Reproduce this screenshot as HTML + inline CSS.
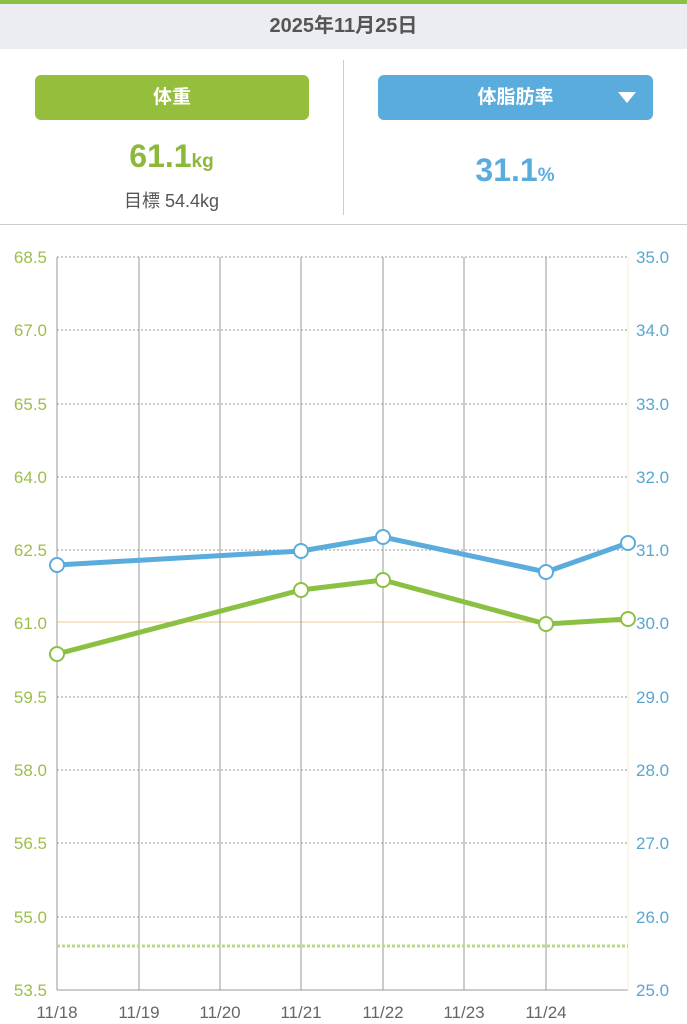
<!DOCTYPE html>
<html><head><meta charset="utf-8"><style>
body{margin:0;width:687px;height:1024px;background:#fff;font-family:"Liberation Sans","Noto Sans CJK JP",sans-serif;position:relative;overflow:hidden}
.top{position:absolute;left:0;top:0;width:687px;height:4px;background:#8cc043}
.date{position:absolute;left:0;top:4px;width:687px;height:45px;background:#ecedf2;text-align:center;line-height:45px;font-size:20px;font-weight:bold;color:#555}
.btn{position:absolute;top:75px;height:45px;border-radius:6px;color:#fff;font-size:19px;font-weight:bold;text-align:center;line-height:45px}
.div{position:absolute;left:343px;top:60px;width:1px;height:155px;background:#ccc}
.hr{position:absolute;left:0;top:224px;width:687px;height:1px;background:#ccc}
</style></head><body>
<div class="top"></div>
<div class="date">2025年11月25日</div>
<div class="btn" style="left:35px;width:274px;background:#95be3c">体重</div>
<div class="btn" style="left:378px;width:275px;background:#5aacdc">体脂肪率<svg style="position:absolute;right:17px;top:17px" width="18" height="12"><polygon points="0,0 18,0 9,11" fill="#fff"/></svg></div>
<div style="position:absolute;left:0;width:343px;top:138px;text-align:center;color:#8cb83c;font-size:32px;font-weight:bold">61.1<span style="font-size:19px">kg</span></div>
<div style="position:absolute;left:0;width:343px;top:187px;text-align:center;color:#555;font-size:18px">目標 54.4kg</div>
<div style="position:absolute;left:343px;width:344px;top:152px;text-align:center;color:#5aacdc;font-size:32px;font-weight:bold">31.1<span style="font-size:19px">%</span></div>
<div class="div"></div><div class="hr"></div>
<svg width="687" height="1024" style="position:absolute;left:0;top:0" font-family="Liberation Sans, sans-serif" font-size="17">
<g stroke="#999" stroke-width="1" stroke-dasharray="2,2">
<line x1="57" x2="628" y1="257" y2="257"/><line x1="57" x2="628" y1="330" y2="330"/><line x1="57" x2="628" y1="404" y2="404"/><line x1="57" x2="628" y1="477" y2="477"/><line x1="57" x2="628" y1="550" y2="550"/><line x1="57" x2="628" y1="697" y2="697"/><line x1="57" x2="628" y1="770" y2="770"/><line x1="57" x2="628" y1="843" y2="843"/><line x1="57" x2="628" y1="917" y2="917"/>
</g>
<line x1="57" x2="628" y1="622" y2="622" stroke="#f0c890" stroke-width="1"/>
<g stroke="#999" stroke-width="1">
<line x1="57" x2="57" y1="257" y2="990"/><line x1="139" x2="139" y1="257" y2="990"/><line x1="220" x2="220" y1="257" y2="990"/><line x1="301" x2="301" y1="257" y2="990"/><line x1="383" x2="383" y1="257" y2="990"/><line x1="464" x2="464" y1="257" y2="990"/><line x1="546" x2="546" y1="257" y2="990"/>
<line x1="57" x2="628" y1="990" y2="990"/>
</g>
<line x1="628" x2="628" y1="257" y2="990" stroke="#f0f0c8"/>
<line x1="57" x2="628" y1="946" y2="946" stroke="#b8d88a" stroke-width="3" stroke-dasharray="3,2"/>
<g fill="#9cbf48" text-anchor="end"><text x="47" y="263">68.5</text><text x="47" y="336">67.0</text><text x="47" y="410">65.5</text><text x="47" y="483">64.0</text><text x="47" y="556">62.5</text><text x="47" y="629">61.0</text><text x="47" y="703">59.5</text><text x="47" y="776">58.0</text><text x="47" y="849">56.5</text><text x="47" y="923">55.0</text><text x="47" y="996">53.5</text></g>
<g fill="#5aa6d0"><text x="636" y="263">35.0</text><text x="636" y="336">34.0</text><text x="636" y="410">33.0</text><text x="636" y="483">32.0</text><text x="636" y="556">31.0</text><text x="636" y="629">30.0</text><text x="636" y="703">29.0</text><text x="636" y="776">28.0</text><text x="636" y="849">27.0</text><text x="636" y="923">26.0</text><text x="636" y="996">25.0</text></g>
<g fill="#666" text-anchor="middle"><text x="57" y="1018">11/18</text><text x="139" y="1018">11/19</text><text x="220" y="1018">11/20</text><text x="301" y="1018">11/21</text><text x="383" y="1018">11/22</text><text x="464" y="1018">11/23</text><text x="546" y="1018">11/24</text></g>
<polyline points="57,565 301,551 383,537 546,572 628,543" fill="none" stroke="#5aacdc" stroke-width="5"/>
<polyline points="57,654 301,590 383,580 546,624 628,619" fill="none" stroke="#8cc043" stroke-width="5"/>
<g fill="#fff" stroke="#5aacdc" stroke-width="2"><circle cx="57" cy="565" r="7"/><circle cx="301" cy="551" r="7"/><circle cx="383" cy="537" r="7"/><circle cx="546" cy="572" r="7"/><circle cx="628" cy="543" r="7"/></g>
<g fill="#fff" stroke="#8cc043" stroke-width="2"><circle cx="57" cy="654" r="7"/><circle cx="301" cy="590" r="7"/><circle cx="383" cy="580" r="7"/><circle cx="546" cy="624" r="7"/><circle cx="628" cy="619" r="7"/></g>
</svg>
</body></html>
